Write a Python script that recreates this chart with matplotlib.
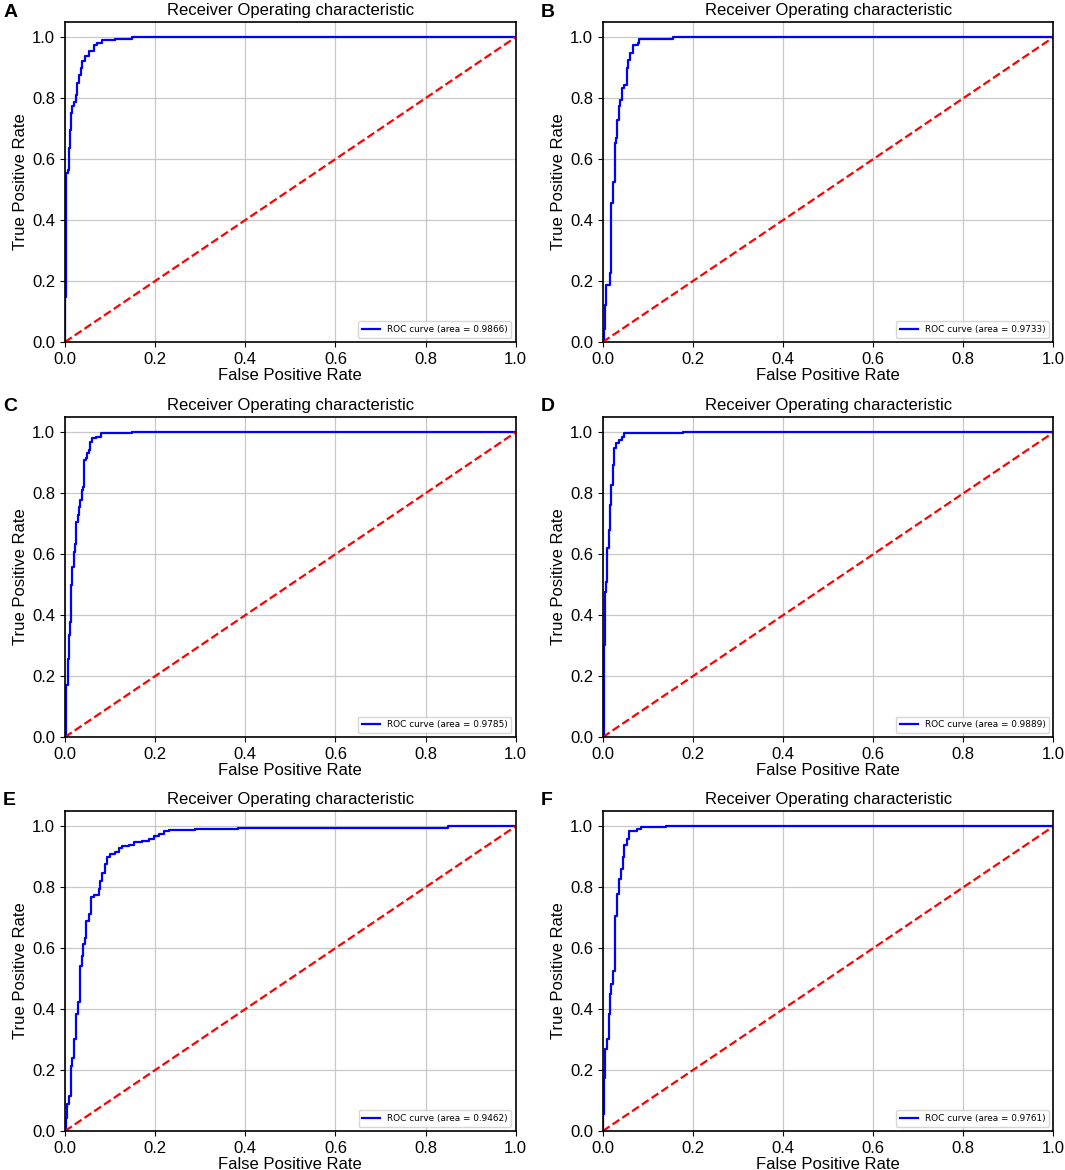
import matplotlib
matplotlib.use("Agg")
import matplotlib.pyplot as plt

plt.rcParams['font.family'] = ['Liberation Sans', 'DejaVu Sans']

panel_letters = ['A', 'B', 'C', 'D', 'E', 'F']
auc_values = [0.9866, 0.9733, 0.9785, 0.9889, 0.9462, 0.9761]

# ROC corners (fpr, tpr)
fpr_a = [0, 0, 0.0015, 0.003, 0.006, 0.0088, 0.011, 0.013, 0.016, 0.02, 0.0235, 0.027,
         0.031, 0.035, 0.038, 0.044, 0.053, 0.064, 0.071, 0.082, 0.112, 0.149, 1.0]
tpr_a = [0, 0.148, 0.44, 0.554, 0.565, 0.636, 0.696, 0.751, 0.773, 0.789, 0.81, 0.85,
         0.877, 0.899, 0.921, 0.9375, 0.954, 0.973, 0.981, 0.99, 0.9945, 1.0, 1.0]

fpr_b = [0, 0.002, 0.0044, 0.0073, 0.0154, 0.0176, 0.022, 0.0264, 0.029, 0.032, 0.035,
         0.0388, 0.0425, 0.048, 0.0527, 0.0557, 0.061, 0.0681, 0.0776, 0.0806, 0.156, 1.0]
tpr_b = [0, 0.044, 0.12, 0.186, 0.225, 0.455, 0.526, 0.652, 0.668, 0.729, 0.773,
         0.795, 0.833, 0.844, 0.899, 0.926, 0.948, 0.973, 0.981, 0.9956, 1.0, 1.0]

fpr_c = [0, 0.0015, 0.003, 0.0059, 0.0074, 0.0096, 0.0118, 0.014, 0.016, 0.0199, 0.022, 0.025,
         0.028, 0.031, 0.034, 0.038, 0.041, 0.0426, 0.047, 0.049, 0.053, 0.055, 0.059, 0.068,
         0.081, 0.1485, 1.0]
tpr_c = [0, 0.126, 0.17, 0.203, 0.257, 0.334, 0.378, 0.498, 0.559, 0.608, 0.635, 0.706,
         0.728, 0.756, 0.778, 0.81, 0.821, 0.909, 0.915, 0.931, 0.942, 0.969, 0.98, 0.986,
         0.997, 1.0, 1.0]

fpr_d = [0, 0.002, 0.0037, 0.0051, 0.0073, 0.0088, 0.0132, 0.016, 0.019, 0.0227, 0.0256, 0.03,
         0.0366, 0.0425, 0.046, 0.178, 1.0]
tpr_d = [0, 0.22, 0.301, 0.476, 0.509, 0.619, 0.679, 0.761, 0.827, 0.893, 0.947, 0.964,
         0.975, 0.986, 0.997, 1.0, 1.0]

fpr_e = [0, 0.0015, 0.0044, 0.0089, 0.0133, 0.016, 0.019, 0.025, 0.028, 0.034, 0.037, 0.04,
         0.044, 0.047, 0.053, 0.057, 0.064, 0.075, 0.077, 0.083, 0.088, 0.094, 0.099, 0.112,
         0.12, 0.127, 0.142, 0.153, 0.171, 0.186, 0.197, 0.208, 0.219, 0.23, 0.289, 0.385,
         0.85, 1.0]
tpr_e = [0, 0.044, 0.088, 0.115, 0.214, 0.241, 0.301, 0.383, 0.422, 0.542, 0.575, 0.613,
         0.635, 0.69, 0.712, 0.767, 0.774, 0.794, 0.821, 0.847, 0.876, 0.898, 0.909, 0.915,
         0.928, 0.934, 0.939, 0.95, 0.953, 0.958, 0.969, 0.975, 0.984, 0.989, 0.991, 0.996,
         1.0, 1.0]

fpr_f = [0, 0.0015, 0.003, 0.0059, 0.0103, 0.0132, 0.016, 0.019, 0.0234, 0.0264, 0.0278,
         0.0315, 0.0366, 0.0396, 0.044, 0.048, 0.0535, 0.0586, 0.0755, 0.085, 0.141, 1.0]
tpr_f = [0, 0.055, 0.175, 0.268, 0.301, 0.383, 0.449, 0.482, 0.526, 0.58, 0.706,
         0.778, 0.827, 0.86, 0.898, 0.937, 0.958, 0.986, 0.991, 0.997, 1.0, 1.0]

curves = [(fpr_a, tpr_a), (fpr_b, tpr_b), (fpr_c, tpr_c),
          (fpr_d, tpr_d), (fpr_e, tpr_e), (fpr_f, tpr_f)]

fig = plt.figure(figsize=(10.65, 11.7), dpi=100)

lefts = [0.061, 0.566]
bottoms = [0.7077, 0.370, 0.0333]
letter_x = [0.003, 0.508]
letter_y = [0.997, 0.660, 0.323]

for i, (fpr, tpr) in enumerate(curves):
    r, c = divmod(i, 2)
    ax = fig.add_axes([lefts[c], bottoms[r], 0.4232, 0.2735])
    ax.plot(fpr, tpr, color='blue', lw=1.6, drawstyle='steps-post',
            label='ROC curve (area = %0.4f)' % auc_values[i])
    ax.plot([0, 1], [0, 1], color='red', lw=1.6, linestyle='--')
    ax.set_xlim(0.0, 1.0)
    ax.set_ylim(0.0, 1.05)
    ax.set_xlabel('False Positive Rate', fontsize=12, labelpad=1)
    ax.set_ylabel('True Positive Rate', fontsize=12, labelpad=3)
    ax.set_title('Receiver Operating characteristic', fontsize=12, pad=5)
    ax.tick_params(labelsize=12)
    ax.grid(True, color='#c8c8c8', lw=0.9)
    ax.set_axisbelow(True)
    for s in ax.spines.values():
        s.set_linewidth(1.2)
    ax.legend(loc='lower right', prop={'family': 'DejaVu Sans', 'size': 6.4})
    fig.text(letter_x[c], letter_y[r], panel_letters[i], fontsize=14,
             fontweight='bold', va='top', ha='left')

fig.savefig('out.png', dpi=100)
